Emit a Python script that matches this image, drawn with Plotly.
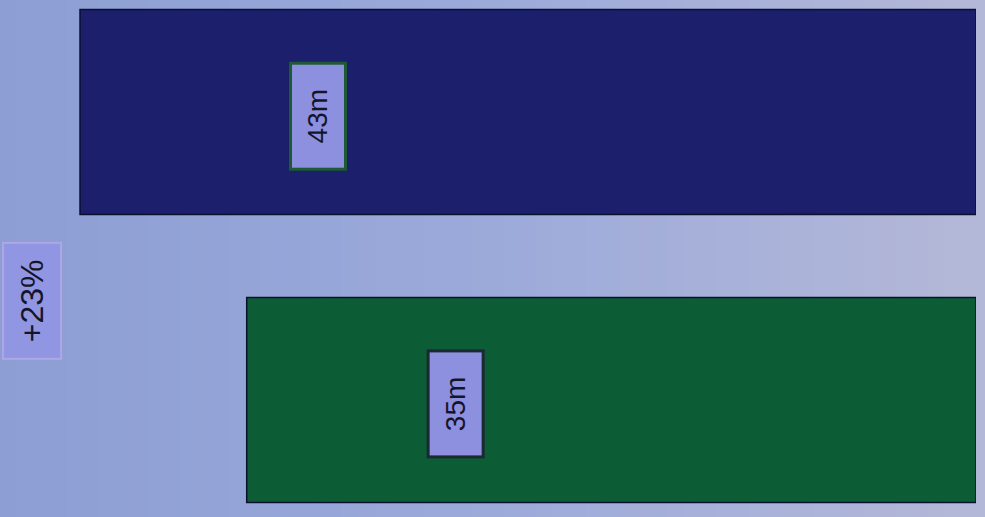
import plotly.graph_objects as go

categories = ["A", "B"]
values = [43, 35]
value_labels = ["43m", "35m"]
bar_colors = ["#1b1f6c", "#0c5c36"]
label_borders = ["#1e5a34", "#1a2a30"]
change_label = "+23%"

positions = list(range(len(categories)))

fig = go.Figure()
fig.add_trace(go.Bar(
    y=positions, x=values, orientation="h",
    marker=dict(color=bar_colors, line=dict(color="#0b1030", width=1.5)),
    width=0.712, hoverinfo="skip",
))

label_xfrac = [0.734, 0.713]
for p, v, lab, bc, f in zip(positions, values, value_labels, label_borders, label_xfrac):
    fig.add_annotation(
        x=v * f, y=p + 0.015, text=lab, textangle=-90, showarrow=False,
        font=dict(family="Liberation Sans, Arial", size=28, color="#15152a"),
        width=95, height=44, align="center", valign="middle",
        bgcolor="#8d90df", bordercolor=bc, borderwidth=3, borderpad=4,
    )

fig.add_annotation(
    xref="paper", yref="paper", x=0.002, xanchor="left", y=0.418,
    text=change_label, textangle=-90, showarrow=False,
    font=dict(family="Liberation Sans, Arial", size=32, color="#15152a"),
    width=104, height=46, align="center", valign="middle",
    bgcolor="#9196e2", bordercolor="#b0a6e6", borderwidth=2, borderpad=5,
)

# smooth sky-like gradient background (left bluer, right greyer)
def lerp(a, b, t):
    return tuple(round(a[i] + (b[i] - a[i]) * t) for i in range(3))

stops = [(0.0, (140, 158, 212)), (0.5, (156, 170, 218)), (1.0, (180, 184, 216))]
n = 60
for i in range(n):
    t = (i + 0.5) / n
    if t <= 0.5:
        c = lerp(stops[0][1], stops[1][1], t / 0.5)
    else:
        c = lerp(stops[1][1], stops[2][1], (t - 0.5) / 0.5)
    fig.add_shape(type="rect", xref="paper", yref="paper",
                  x0=i / n, x1=(i + 1) / n + 0.002, y0=0, y1=1,
                  fillcolor="rgb(%d,%d,%d)" % c, line=dict(width=0), layer="below")

fig.update_layout(
    width=985, height=517,
    margin=dict(l=0, r=9, t=0, b=0),
    paper_bgcolor="rgb(180,184,216)", plot_bgcolor="rgba(0,0,0,0)",
    showlegend=False,
    xaxis=dict(range=[46.84, 0], visible=False),
    yaxis=dict(range=[1.406, -0.389], visible=False),
)

fig.write_html(
    "out.html",
    config={"displayModeBar": False},
    post_script="document.body.style.margin='0';document.body.style.background='rgb(180,184,216)';document.body.style.overflow='hidden';",
)
